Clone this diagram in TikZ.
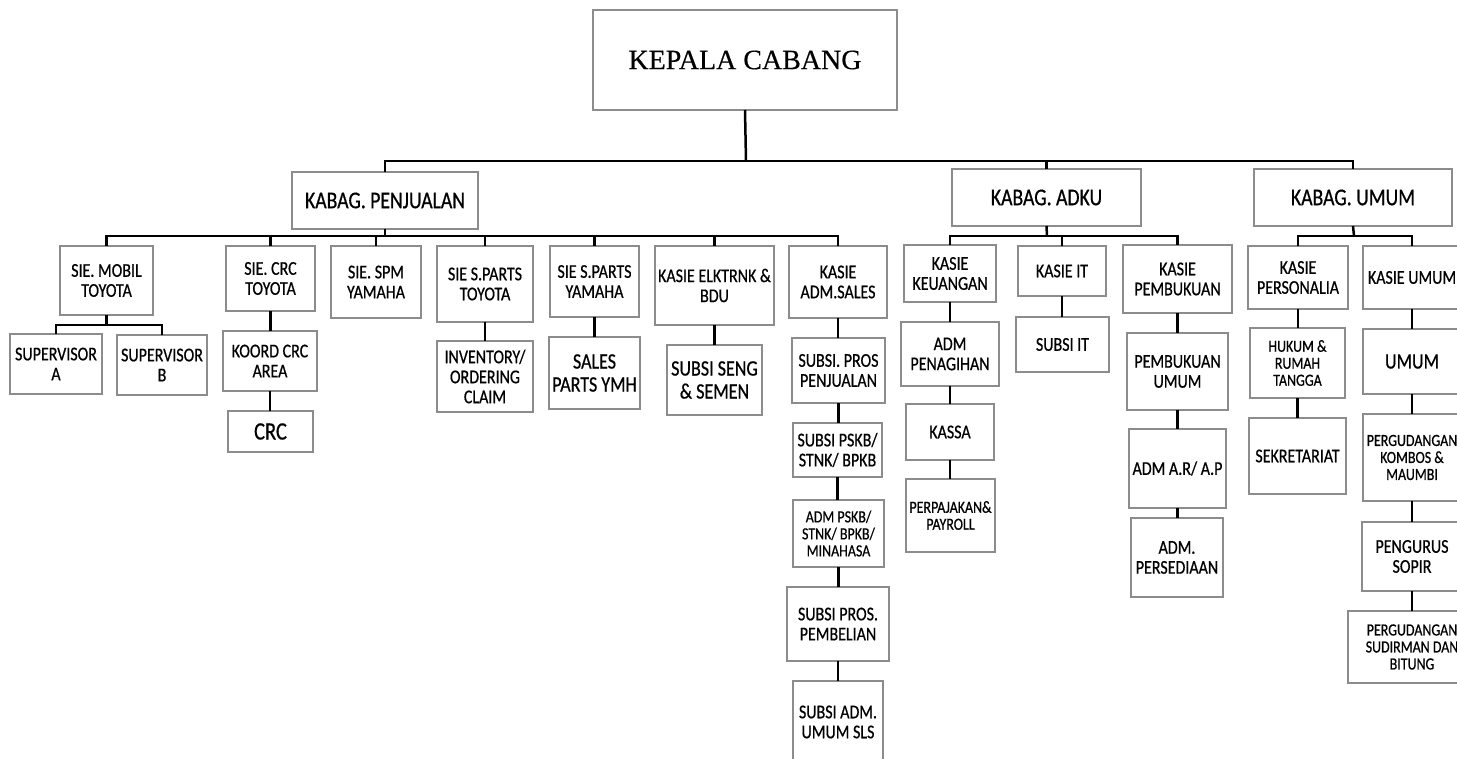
\documentclass[tikz,border=0pt]{standalone}
\usepackage{fontspec}
\setmainfont{Carlito}[FakeStretch=0.82,FakeBold=0.6]
\newfontfamily\serifkepala{Liberation Serif}[FakeBold=0.4]
\tikzset{
  kotak/.style={draw=black!45,line width=1.5pt,fill=white,align=center,inner sep=1pt,outer sep=0pt,
    font=\fontsize{19.5}{20}\selectfont},
  kecil/.style={font=\fontsize{17}{17}\selectfont},
  besar/.style={font=\fontsize{22}{23}\selectfont},
  kabag/.style={font=\fontsize{24}{26}\selectfont},
  garis/.style={line width=2.5pt}
}
% kotak dari pojok (x1,y1) ke (x2,y2)
\newcommand{\kotak}[7][]{\node[kotak,#1,minimum width={(#5-#3)*1pt},minimum height={(#6-#4)*1pt}] (#2) at ({(#3+#5)/2},{(#4+#6)/2}) {#7};}

\begin{document}
\begin{tikzpicture}[x=1pt,y=-1pt]
  \useasboundingbox (0,0) rectangle (1457,759);

  % kepala dan kabag
  \kotak[font=\serifkepala\fontsize{28}{30}\selectfont]{kc}{593}{10}{897}{110}{KEPALA CABANG}
  \kotak[kabag]{pjl}{292}{172}{478}{229}{KABAG. PENJUALAN}
  \kotak[kabag]{adku}{952}{169}{1141}{226}{KABAG. ADKU}
  \kotak[kabag]{umum}{1254}{169}{1452}{226}{KABAG. UMUM}

  % bagian penjualan
  \kotak{mobil}{60}{246}{153}{315}{SIE. MOBIL\\TOYOTA}
  \kotak{supa}{10}{334}{102}{394}{SUPERVISOR\\A}
  \kotak{supb}{117}{335}{207}{395}{SUPERVISOR\\B}
  \kotak{crc}{226}{246}{315}{311}{SIE. CRC\\TOYOTA}
  \kotak{koord}{223}{331}{317}{391}{KOORD CRC\\AREA}
  \kotak[font=\fontsize{25}{26}\selectfont]{crcx}{228}{411}{313}{452}{CRC}
  \kotak{spm}{331}{246}{421}{318}{SIE. SPM\\YAMAHA}
  \kotak{spt}{437}{246}{533}{322}{SIE S.PARTS\\TOYOTA}
  \kotak{inv}{437}{341}{533}{412}{INVENTORY/\\ORDERING\\CLAIM}
  \kotak{spy}{550}{246}{639}{317}{SIE S.PARTS\\YAMAHA}
  \kotak[besar]{ymh}{549}{337}{640}{409}{SALES\\PARTS YMH}
  \kotak{elk}{655}{246}{774}{325}{KASIE ELKTRNK \&\\BDU}
  \kotak[besar]{seng}{667}{345}{762}{415}{SUBSI SENG\\\& SEMEN}
  \kotak{adms}{789}{246}{887}{318}{KASIE\\ADM.SALES}
  \kotak{pros}{792}{338}{885}{403}{SUBSI. PROS\\PENJUALAN}
  \kotak{pskb}{793}{423}{882}{477}{SUBSI PSKB/\\STNK/ BPKB}
  \kotak[kecil]{admp}{793}{500}{884}{567}{ADM PSKB/\\STNK/ BPKB/\\MINAHASA}
  \kotak{beli}{787}{587}{889}{661}{SUBSI PROS.\\PEMBELIAN}
  \kotak{umsls}{793}{681}{883}{763}{SUBSI ADM.\\UMUM SLS}

  % bagian adku
  \kotak{keu}{904}{245}{996}{302}{KASIE\\KEUANGAN}
  \kotak{tagih}{901}{322}{999}{386}{ADM\\PENAGIHAN}
  \kotak{kassa}{906}{404}{994}{460}{KASSA}
  \kotak[kecil]{pajak}{906}{479}{995}{552}{PERPAJAKAN\&\\PAYROLL}
  \kotak{it}{1018}{246}{1106}{296}{KASIE IT}
  \kotak{subit}{1016}{317}{1109}{372}{SUBSI IT}
  \kotak{pbk}{1123}{245}{1232}{313}{KASIE\\PEMBUKUAN}
  \kotak{pbku}{1127}{333}{1228}{410}{PEMBUKUAN\\UMUM}
  \kotak{arap}{1129}{429}{1226}{508}{ADM A.R/ A.P}
  \kotak{sedia}{1131}{518}{1223}{597}{ADM.\\PERSEDIAAN}

  % bagian umum
  \kotak{pers}{1248}{246}{1348}{309}{KASIE\\PERSONALIA}
  \kotak[kecil]{hukum}{1250}{328}{1345}{398}{HUKUM \&\\RUMAH\\TANGGA}
  \kotak{sekre}{1249}{418}{1346}{494}{SEKRETARIAT}
  \kotak{kum}{1363}{246}{1461}{309}{KASIE UMUM}
  \kotak[besar]{umm}{1363}{329}{1461}{394}{UMUM}
  \kotak[kecil]{kombos}{1363}{414}{1461}{501}{PERGUDANGAN\\KOMBOS \&\\MAUMBI}
  \kotak{sopir}{1362}{522}{1462}{591}{PENGURUS\\SOPIR}
  \kotak[kecil]{sudir}{1348}{611}{1476}{683}{PERGUDANGAN\\SUDIRMAN DAN\\BITUNG}

  % garis cabang
  \coordinate (bkc) at (746,161);
  \coordinate (bpjl) at (385,236);
  \coordinate (bmbl) at (106.5,325);
  \coordinate (badku) at (1047,236);
  \coordinate (bumum) at (1354,236);
  \draw[garis] (kc.south) -- (bkc);
  \foreach \k in {pjl,adku,umum} \draw[garis] (bkc) -| (\k.north);
  \draw[garis] (pjl.south) -- (bpjl);
  \foreach \k in {mobil,crc,spm,spt,spy,elk,adms} \draw[garis] (bpjl) -| (\k.north);
  \draw[garis] (mobil.south) -- (bmbl);
  \foreach \k in {supa,supb} \draw[garis] (bmbl) -| (\k.north);
  \draw[garis] (adku.south) -- (badku);
  \foreach \k in {keu,it,pbk} \draw[garis] (badku) -| (\k.north);
  \draw[garis] (umum.south) -- (bumum);
  \foreach \k in {pers,kum} \draw[garis] (bumum) -| (\k.north);

  % garis lurus ke bawah
  \foreach \a/\b in {crc/koord,koord/crcx,spt/inv,spy/ymh,elk/seng,adms/pros,pros/pskb,pskb/admp,admp/beli,beli/umsls,
    keu/tagih,tagih/kassa,kassa/pajak,it/subit,pbk/pbku,pbku/arap,arap/sedia,
    pers/hukum,hukum/sekre,kum/umm,umm/kombos,kombos/sopir,sopir/sudir}
    \draw[garis] (\a.south) -- (\a.south |- \b.north);
\end{tikzpicture}
\end{document}
